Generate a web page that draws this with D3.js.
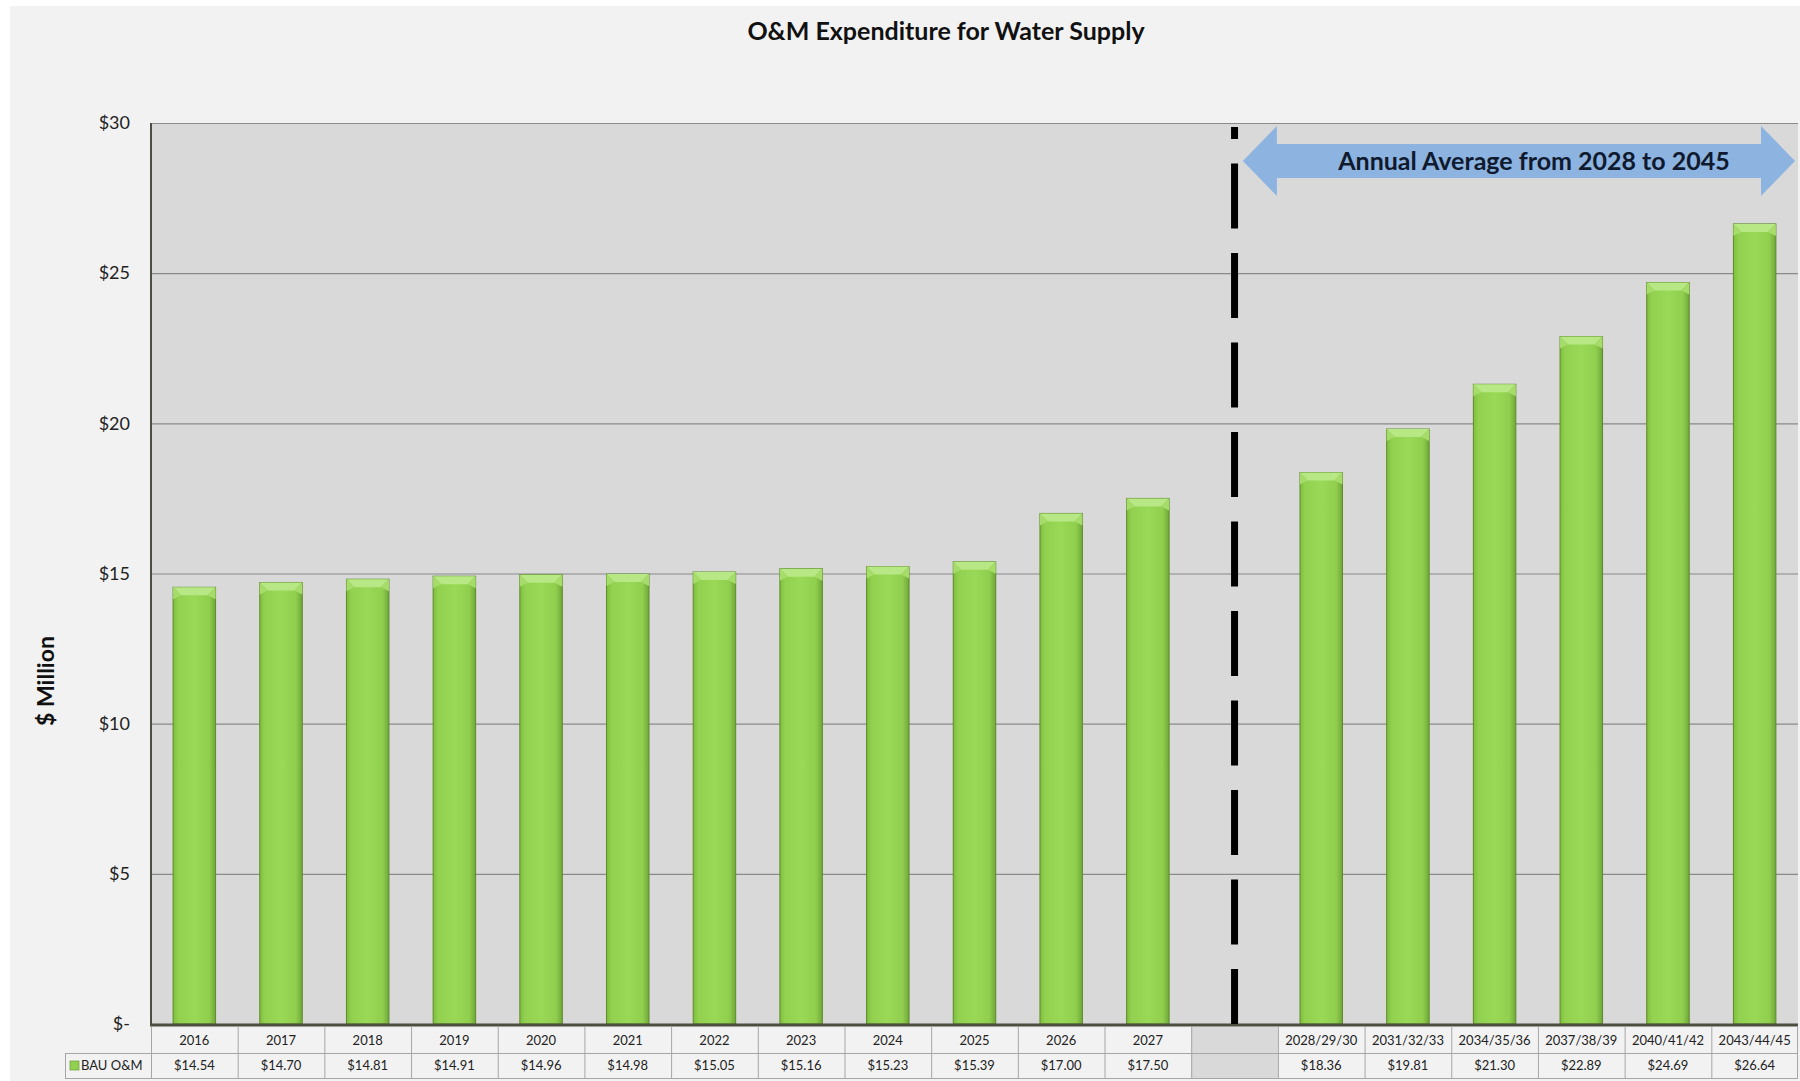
<!DOCTYPE html>
<html><head><meta charset="utf-8">
<script src="https://cdn.jsdelivr.net/npm/d3@7"></script>
<style>html,body{margin:0;padding:0;background:#fff;}svg{display:block;}</style>
</head><body>
<svg id="chart" width="1800" height="1081"></svg>
<script>
const title = "O&M Expenditure for Water Supply";
const yAxisTitle = "$ Million";
const seriesName = "BAU O&M";
const categories = ["2016","2017","2018","2019","2020","2021","2022","2023","2024","2025","2026","2027","","2028/29/30","2031/32/33","2034/35/36","2037/38/39","2040/41/42","2043/44/45"];
const values = [14.54,14.70,14.81,14.91,14.96,14.98,15.05,15.16,15.23,15.39,17.00,17.50,null,18.36,19.81,21.30,22.89,24.69,26.64];
const yTicks = [0,5,10,15,20,25,30];
const yTickLabels = ["$-","$5","$10","$15","$20","$25","$30"];
const dividerCategory = "";
const arrowLabel = "Annual Average from 2028 to 2045";
const arrowFrom = "2028/29/30";
const arrowTo = "2043/44/45";

const FONT = "Lato, 'Open Sans', sans-serif";
const svg = d3.select("#chart");
const W = 1800, H = 1081;
const plot = {left:151, right:1798, top:123, bottom:1024};

const defs = svg.append("defs");
const g1 = defs.append("linearGradient").attr("id","barGrad").attr("x1","0").attr("x2","1").attr("y1","0").attr("y2","0");
g1.append("stop").attr("offset","0%").attr("stop-color","#7fbf3c");
g1.append("stop").attr("offset","12%").attr("stop-color","#92d050");
g1.append("stop").attr("offset","50%").attr("stop-color","#9ad957");
g1.append("stop").attr("offset","85%").attr("stop-color","#90ce4e");
g1.append("stop").attr("offset","100%").attr("stop-color","#6fa838");
const f = defs.append("filter").attr("id","blur").attr("x","-50%").attr("y","-5%").attr("width","200%").attr("height","110%");
f.append("feGaussianBlur").attr("stdDeviation","2.5");

// chart background
svg.append("rect").attr("x",10).attr("y",6).attr("width",W-10).attr("height",H-6).attr("fill","#f2f2f2");

const x = d3.scaleBand().domain(categories).range([plot.left, plot.right]).paddingInner(0).paddingOuter(0);
const y = d3.scaleLinear().domain([0,30]).range([plot.bottom, plot.top]);

// plot area
svg.append("rect").attr("x",plot.left).attr("y",plot.top).attr("width",plot.right-plot.left).attr("height",plot.bottom-plot.top).attr("fill","#d9d9d9");

// gridlines
svg.append("g").selectAll("line").data(yTicks.filter(t=>t>0)).join("line")
  .attr("x1",plot.left).attr("x2",plot.right)
  .attr("y1",d=>y(d)+0.5).attr("y2",d=>y(d)+0.5)
  .attr("stroke","#8a8a8a").attr("stroke-width",1.2);

// y axis labels
const yAxis = d3.axisLeft(y).tickValues(yTicks).tickFormat((d,i)=>yTickLabels[i]).tickSize(0).tickPadding(21);
const ya = svg.append("g").attr("transform",`translate(${plot.left},0)`).call(yAxis);
ya.select(".domain").remove();
ya.selectAll("text").attr("font-family",FONT).attr("font-size",18).attr("fill","#222");

// y axis line
svg.append("line").attr("x1",plot.left).attr("x2",plot.left).attr("y1",plot.top).attr("y2",plot.bottom)
  .attr("stroke","#4d4d40").attr("stroke-width",2);

// bars
const bw = x.bandwidth()*0.49;
const data = categories.map((c,i)=>({c, v:values[i]})).filter(d=>d.v!=null);
const bars = svg.append("g").selectAll("g").data(data).join("g");
bars.append("rect")
  .attr("x",d=>x(d.c)+x.bandwidth()/2-bw/2).attr("y",d=>y(d.v))
  .attr("width",bw).attr("height",d=>y(0)-y(d.v))
  .attr("fill","url(#barGrad)").attr("stroke","#5e8a2a").attr("stroke-width",1);
bars.append("path")
  .attr("d",d=>{const x0=x(d.c)+x.bandwidth()/2-bw/2, x1=x0+bw, t=y(d.v), b=8;
    return `M${x0},${t}L${x1},${t}L${x1-b},${t+b}L${x0+b},${t+b}Z`;})
  .attr("fill","#b8e886").attr("stroke","none");
bars.append("path")
  .attr("d",d=>{const x0=x(d.c)+x.bandwidth()/2-bw/2, x1=x0+bw, t=y(d.v), b=8;
    return `M${x0},${t}L${x0+b},${t+b}L${x0},${t+b+4}Z M${x1},${t}L${x1-b},${t+b}L${x1},${t+b+4}Z`;})
  .attr("fill","#a6dc6a");

// bottom axis line
svg.append("line").attr("x1",plot.left-1).attr("x2",plot.right).attr("y1",plot.bottom+1).attr("y2",plot.bottom+1)
  .attr("stroke","#4d4d40").attr("stroke-width",3);

// dashed divider
const dx = x(dividerCategory)+x.bandwidth()/2;
svg.append("line").attr("x1",dx).attr("x2",dx).attr("y1",plot.top+1).attr("y2",plot.bottom)
  .attr("stroke","#888").attr("stroke-width",9).attr("stroke-dasharray","68,21.5").attr("stroke-dashoffset",54)
  .attr("filter","url(#blur)").attr("opacity",0.8);
svg.append("line").attr("x1",dx).attr("x2",dx).attr("y1",plot.top+4).attr("y2",plot.bottom)
  .attr("stroke","#000").attr("stroke-width",7).attr("stroke-dasharray","65,24.5").attr("stroke-dashoffset",53);

// double arrow
const ax0 = x(arrowFrom) - 35, ax1 = plot.right - 3, acy = 161, hh = 35, sh = 17, hl = 34;
svg.append("path")
  .attr("d",`M${ax0},${acy}L${ax0+hl},${acy-hh}L${ax0+hl},${acy-sh}L${ax1-hl},${acy-sh}L${ax1-hl},${acy-hh}L${ax1},${acy}L${ax1-hl},${acy+hh}L${ax1-hl},${acy+sh}L${ax0+hl},${acy+sh}L${ax0+hl},${acy+hh}Z`)
  .attr("fill","#8db3e0");
svg.append("text").attr("x",1534).attr("y",acy+8.5).attr("text-anchor","middle")
  .attr("font-family",FONT).attr("font-weight","bold").attr("font-size",25).attr("fill","#0f1a2e").text(arrowLabel);

// title
svg.append("text").attr("x",946).attr("y",40).attr("text-anchor","middle")
  .attr("font-family",FONT).attr("font-weight","bold").attr("font-size",25).attr("fill","#111").text(title);

// y axis title
svg.append("text").attr("transform","translate(54,681) rotate(-90)").attr("text-anchor","middle")
  .attr("font-family",FONT).attr("font-weight","bold").attr("font-size",23).attr("fill","#111").text(yAxisTitle);

// data table
const r0 = 1027, r1 = 1053, r2 = 1078, legLeft = 65;
const tbl = svg.append("g");
tbl.selectAll("rect.cell").data(categories).join("rect")
  .attr("x",d=>x(d)).attr("y",r0).attr("width",x.bandwidth()).attr("height",r2-r0)
  .attr("fill",d=>d===""?"#d9d9d9":"#f2f2f2");
[r1, r2].forEach(ry=>tbl.append("line").attr("x1",legLeft).attr("x2",plot.right).attr("y1",ry+0.5).attr("y2",ry+0.5).attr("stroke","#a6a6a6"));
tbl.append("line").attr("x1",legLeft+0.5).attr("x2",legLeft+0.5).attr("y1",r1).attr("y2",r2).attr("stroke","#a6a6a6");
tbl.selectAll("line.v").data(categories.concat(["__end"])).join("line")
  .attr("x1",(d,i)=>i<categories.length? x(d)+0.5 : plot.right-0.5)
  .attr("x2",(d,i)=>i<categories.length? x(d)+0.5 : plot.right-0.5)
  .attr("y1",r0).attr("y2",r2).attr("stroke","#a6a6a6");
tbl.selectAll("text.cat").data(categories).join("text")
  .attr("x",d=>x(d)+x.bandwidth()/2).attr("y",(r0+r1)/2+4.5).attr("text-anchor","middle")
  .attr("font-family",FONT).attr("font-size",13).attr("fill","#222").text(d=>d);
tbl.selectAll("text.val").data(categories.map((c,i)=>({c,v:values[i]}))).join("text")
  .attr("x",d=>x(d.c)+x.bandwidth()/2).attr("y",(r1+r2)/2+4.5).attr("text-anchor","middle")
  .attr("font-family",FONT).attr("font-size",13).attr("fill","#222")
  .text(d=>d.v==null?"":"$"+d.v.toFixed(2));
tbl.append("rect").attr("x",legLeft+5).attr("y",(r1+r2)/2-4.5).attr("width",9).attr("height",9).attr("fill","#92d050").attr("stroke","#6a9a3a").attr("stroke-width",0.7);
tbl.append("text").attr("x",legLeft+16).attr("y",(r1+r2)/2+4.5)
  .attr("font-family",FONT).attr("font-size",13).attr("fill","#222").text(seriesName);
</script>
</body></html>
